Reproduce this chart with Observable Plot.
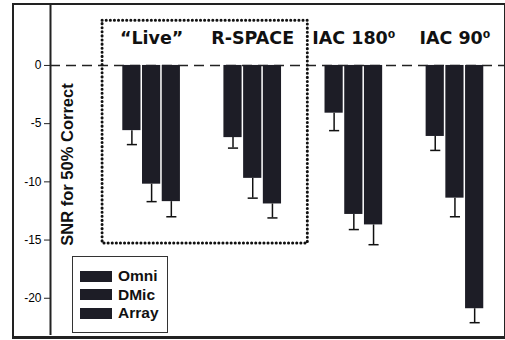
<!DOCTYPE html>
<html>
<head>
<meta charset="utf-8">
<script src="https://cdn.jsdelivr.net/npm/d3@7"></script>
<script src="https://cdn.jsdelivr.net/npm/@observablehq/plot@0.6"></script>
<style>
  html, body { margin: 0; padding: 0; background: #fff; }
  #wrap { position: relative; width: 505px; height: 340px; overflow: hidden; }
  #frame { position: absolute; left: 12px; top: 3px; width: 490px; height: 331px;
           border: 2px solid #222; border-bottom-width: 3px; pointer-events: none; }
  #legend { position: absolute; left: 72px; top: 256px; width: 96px; height: 77px;
            border: 1.5px solid #333; background: #fff; box-sizing: border-box;
            font-family: Arial, "Liberation Sans", sans-serif; font-weight: bold; font-size: 15.5px; color: #111; }
  .li { position: absolute; left: 7px; height: 18px; display: flex; align-items: center; }
  .sw { width: 32px; height: 11px; background: #1d1d26; margin-right: 6px; }
</style>
</head>
<body>
<div id="wrap"></div>
<script>
const groups = ["\u201CLive\u201D", "R-SPACE", "IAC 180\u2070", "IAC 90\u2070"];
const mics = ["Omni", "DMic", "Array"];
const omni = [-5.6, -6.2, -4.1, -6.1];
const dmic = [-10.2, -9.7, -12.8, -11.4];
const arr = [-11.7, -11.9, -13.7, -20.9];
const omniErr = [1.2, 0.9, 1.5, 1.2];
const dmicErr = [1.5, 1.7, 1.3, 1.6];
const arrErr = [1.3, 1.2, 1.7, 1.2];
const yTicks = [0, -5, -10, -15, -20];
const boxGroups = [1, 2]; // dotted box around first two groups
const boxTop = 3.85, boxBottom = -15.3;
const yLabel = "SNR for 50% Correct";

const series = [omni, dmic, arr];
const errs = [omniErr, dmicErr, arrErr];
const offsets = [-0.195, 0, 0.195];
const half = 0.09;
const rows = [];
groups.forEach((g, i) => {
  mics.forEach((m, j) => {
    const x = i + 1 + offsets[j];
    const v = series[j][i];
    rows.push({group: g, mic: m, x, v, low: v - errs[j][i]});
  });
});

const chart = Plot.plot({
  width: 505,
  height: 340,
  marginLeft: 50,
  marginRight: 0,
  marginTop: 5,
  marginBottom: 5,
  x: {domain: [0, 4.5], axis: null},
  y: {domain: [-23.2, 5.15]},
  style: {background: "transparent"},
  marks: [
    Plot.axisY({ticks: yTicks, tickSize: 6, tickPadding: 3, tickFormat: d => String(d),
      label: null, fontSize: 12, fontFamily: "Arial, 'Liberation Sans', sans-serif", stroke: "#222"}),
    Plot.ruleX([0], {stroke: "#222", strokeWidth: 2}),
    Plot.ruleY([0], {stroke: "#222", strokeWidth: 1.6, strokeDasharray: "10,6"}),
    Plot.rect(rows, {x1: d => d.x - half, x2: d => d.x + half, y1: 0, y2: "v", fill: "#1d1d26"}),
    Plot.ruleX(rows, {x: "x", y1: "v", y2: "low", stroke: "#111", strokeWidth: 1.5}),
    Plot.link(rows, {x1: d => d.x - 0.05, x2: d => d.x + 0.05, y1: "low", y2: "low", stroke: "#111", strokeWidth: 1.5}),
    Plot.rect([0], {x1: boxGroups[0] - 0.485, x2: boxGroups[1] + 0.545, y1: boxTop, y2: boxBottom,
      fill: "none", stroke: "#111", strokeWidth: 3, strokeDasharray: "0.1,4", strokeLinecap: "round"}),
    Plot.text(groups, {x: (d, i) => i + 1, frameAnchor: "top", dy: 26, text: d => d,
      fontSize: 17.5, fontWeight: "bold", fontFamily: "'DejaVu Sans', sans-serif", fill: "#111"}),
    Plot.text([yLabel], {frameAnchor: "left", textAnchor: "middle", lineAnchor: "middle", dx: 17, dy: -6, rotate: -90, text: d => d,
      fontSize: 16.5, fontWeight: "bold", fontFamily: "Arial, 'Liberation Sans', sans-serif", fill: "#111"})
  ]
});

const wrap = document.getElementById("wrap");
wrap.appendChild(chart);
const frame = document.createElement("div");
frame.id = "frame";
wrap.appendChild(frame);
const legend = document.createElement("div");
legend.id = "legend";
mics.forEach((m, i) => {
  const li = document.createElement("div");
  li.className = "li";
  li.style.top = (10 + i * 18.5) + "px";
  li.innerHTML = `<span class="sw"></span><span>${m}</span>`;
  legend.appendChild(li);
});
wrap.appendChild(legend);
</script>
</body>
</html>
